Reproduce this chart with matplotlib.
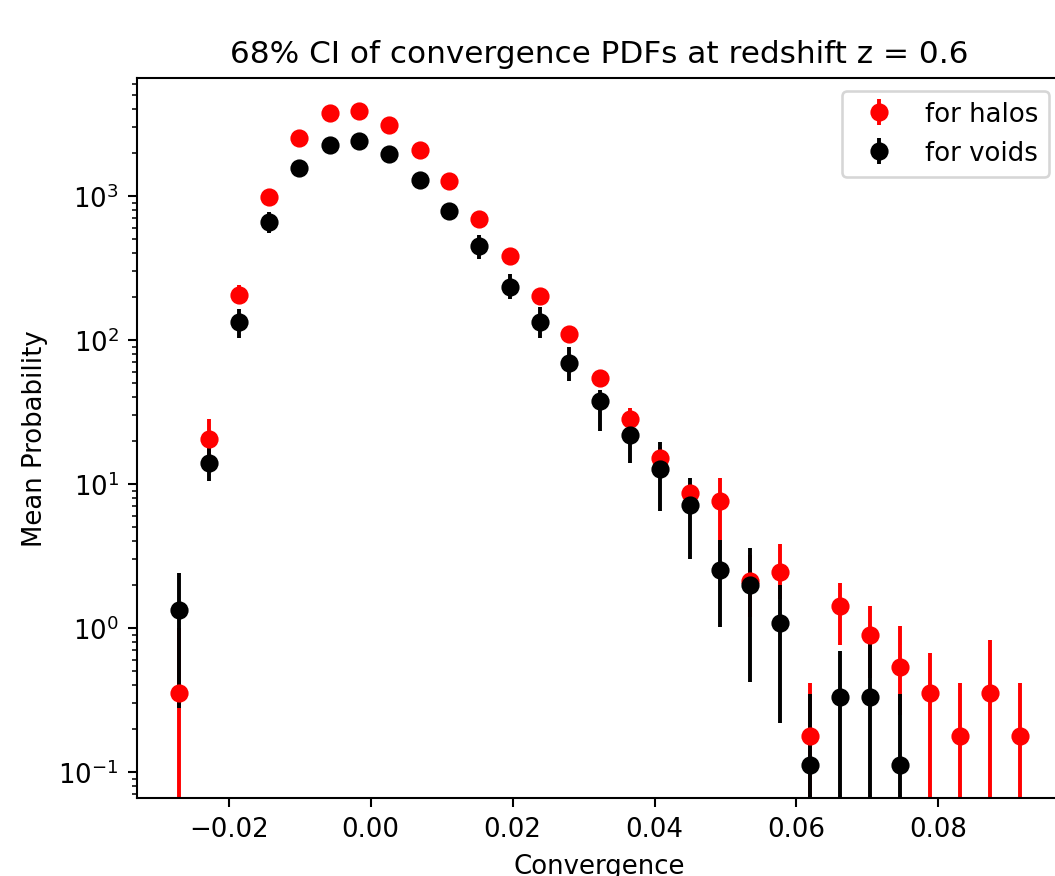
import matplotlib
matplotlib.use("Agg")
import matplotlib.pyplot as plt
import numpy as np

# bin centres of the convergence histogram
CONVERGENCE = [-0.0270, -0.0228, -0.0185, -0.0143, -0.0101, -0.0058, -0.0016,
               0.0026, 0.0069, 0.0111, 0.0153, 0.0196, 0.0238, 0.0280,
               0.0323, 0.0365, 0.0407, 0.0450, 0.0492, 0.0534, 0.0577,
               0.0619, 0.0661, 0.0704, 0.0746, 0.0788, 0.0830, 0.0873, 0.0915]

# mean probability + 68% interval (lower / upper bound) for halos
HALO_MEAN = [0.356, 20.5, 206, 990, 2515, 3770, 3875, 3125, 2085, 1265, 692,
             385, 202, 111, 54.2, 28.5, 15.2, 8.6, 7.6, 2.13, 2.46, 0.178,
             1.42, 0.89, 0.534, 0.356, 0.178, 0.356, 0.178]
HALO_LOW = [0, 15, 183, 920, 2330, 3490, 3590, 2890, 1930, 1170, 640,
            355, 183, 98, 47, 24, 12.5, 7.0, 3.5, 1.2, 1.6, 0,
            0.762, 0.45, 0.25, 0, 0, 0, 0]
HALO_HIGH = [1.0, 28.3, 243, 1065, 2700, 4050, 4160, 3360, 2240, 1360, 745,
             415, 222, 125, 62, 33.5, 18, 10, 11.0, 3.2, 3.83, 0.415,
             2.05, 1.415, 1.04, 0.67, 0.415, 0.83, 0.415]

# same for voids (no counts in the last four bins)
VOID_MEAN = [1.33, 14.1, 134, 656, 1573, 2270, 2420, 1958, 1298, 791, 447,
             234, 134, 69.2, 38, 22, 12.8, 7.2, 2.54, 2.0, 1.09, 0.112,
             0.334, 0.334, 0.112, np.nan, np.nan, np.nan, np.nan]
VOID_LOW = [0.277, 10.5, 104, 550, 1460, 2110, 2250, 1820, 1200, 735, 368,
            193, 104, 51.7, 23.5, 14.1, 6.5, 3.0, 1.01, 0.42, 0.219, 0,
            0, 0, 0, np.nan, np.nan, np.nan, np.nan]
VOID_HIGH = [2.40, 18, 164, 776, 1690, 2430, 2590, 2100, 1390, 850, 537,
             287, 168.5, 89.8, 45, 25, 19.5, 11.0, 4.1, 3.59, 2.0, 0.348,
             0.689, 0.8, 0.348, np.nan, np.nan, np.nan, np.nan]

DPI = 187
IMAGE_WIDTH = 1055
IMAGE_HEIGHT = 877


def asym_err(mean, low, high):
    mean = np.array(mean, dtype=float)
    return [mean - np.array(low, dtype=float), np.array(high, dtype=float) - mean]


def draw_pdfs():
    fig = plt.figure(figsize=(IMAGE_WIDTH / DPI, IMAGE_HEIGHT / DPI), dpi=DPI)
    ax = fig.add_axes([0.1299, 0.0889, 0.8768, 0.8210])

    ax.errorbar(CONVERGENCE, HALO_MEAN, yerr=asym_err(HALO_MEAN, HALO_LOW, HALO_HIGH),
                fmt='o', color='r', label='for halos')
    ax.errorbar(CONVERGENCE, VOID_MEAN, yerr=asym_err(VOID_MEAN, VOID_LOW, VOID_HIGH),
                fmt='o', color='k', label='for voids')

    ax.set_yscale('log')
    ax.set_ylim(0.066, 6600)
    ax.set_title('68% CI of convergence PDFs at redshift z = 0.6')
    ax.set_xlabel('Convergence')
    ax.set_ylabel('Mean Probability')
    ax.legend(loc='upper right')

    fig.savefig('out.png', dpi=DPI)


if __name__ == '__main__':
    draw_pdfs()
